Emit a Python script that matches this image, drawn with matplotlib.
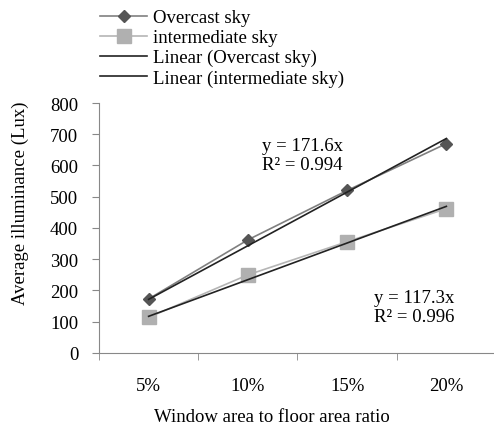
import matplotlib
matplotlib.use("Agg")
import matplotlib.pyplot as plt
import numpy as np

plt.rcParams['font.family'] = ['Liberation Serif', 'DejaVu Serif']

ratios = ["5%", "10%", "15%", "20%"]
overcast = [173, 362, 520, 670]
intermediate = [114, 250, 356, 462]
slope_overcast = 171.6
slope_intermediate = 117.3
r2_overcast = 0.994
r2_intermediate = 0.996

fs = 13.5
x = np.arange(1, len(ratios) + 1)

fig = plt.figure(figsize=(4.94, 4.31), dpi=100)
ax = fig.add_axes([0.2004, 0.1787, 0.8036, 0.58])

l1, = ax.plot(x, overcast, color='#808080', lw=1.2, marker='D', ms=6.5,
              mfc='#555555', mec='#555555', label='Overcast sky')
l2, = ax.plot(x, intermediate, color='#b5b5b5', lw=1.2, marker='s', ms=10,
              mfc='#b0b0b0', mec='#b0b0b0', label='intermediate sky')
l3, = ax.plot(x, slope_overcast * x, color='#222222', lw=1.2,
              label='Linear (Overcast sky)')
l4, = ax.plot(x, slope_intermediate * x, color='#222222', lw=1.2,
              label='Linear (intermediate sky)')

ax.set_xlim(0.5, 4.5)
ax.set_ylim(0, 800)
ax.set_yticks(range(0, 801, 100))
ax.set_xticks(x)
ax.set_xticklabels(ratios)
ax.set_xticks(np.arange(0.5, 4.6, 1), minor=True)
ax.tick_params(axis='x', which='major', length=0, pad=17, labelsize=fs)
ax.tick_params(axis='x', which='minor', length=5, color='#888888')
ax.tick_params(axis='y', length=5, color='#888888', labelsize=fs, pad=10)
for s in ['top', 'right']:
    ax.spines[s].set_visible(False)
for s in ['left', 'bottom']:
    ax.spines[s].set_color('#888888')

ax.set_ylabel('Average illuminance (Lux)', fontsize=fs)
ax.yaxis.set_label_coords(-0.176, 0.604)
ax.set_xlabel('Window area to floor area ratio', fontsize=fs)
ax.xaxis.set_label_coords(0.435, -0.222)

ax.text(2.14, 634, 'y = %.1fx\nR² = %.3f' % (slope_overcast, r2_overcast),
        fontsize=fs, linespacing=1.1, va='center')
ax.text(3.27, 147, 'y = %.1fx\nR² = %.3f' % (slope_intermediate, r2_intermediate),
        fontsize=fs, linespacing=1.1, va='center')

fig.legend(handles=[l1, l2, l3, l4], loc='upper left',
           bbox_to_anchor=(0.195, 0.985), frameon=False, fontsize=fs,
           handlelength=2.5, handletextpad=0.3, labelspacing=0.15,
           borderaxespad=0, borderpad=0.2)

fig.savefig('out.png', dpi=100)
